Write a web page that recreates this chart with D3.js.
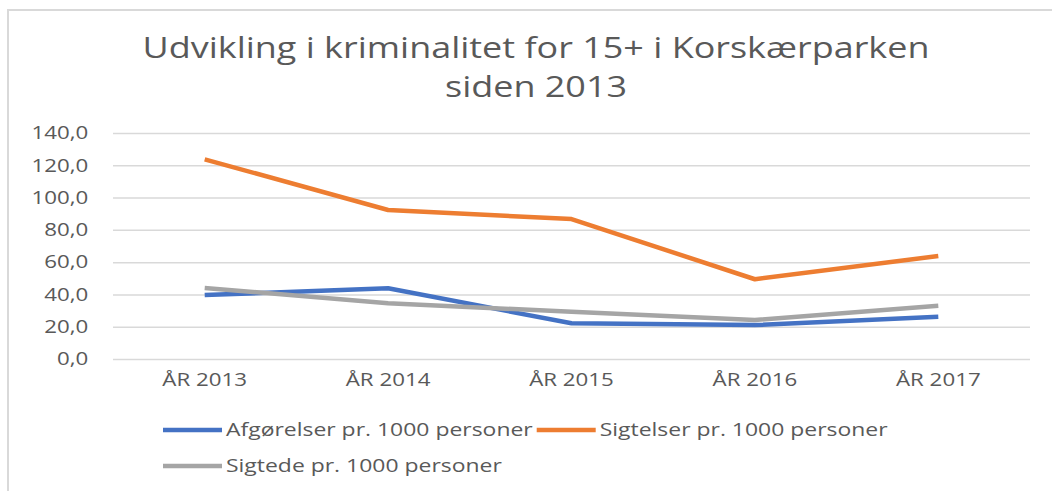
<!DOCTYPE html>
<html>
<head>
<meta charset="utf-8">
<script src="https://cdn.jsdelivr.net/npm/d3@7"></script>
<style>
body { margin: 0; background: #fff; }
text { font-family: "Open Sans", sans-serif; fill: #595959; }
</style>
</head>
<body>
<svg id="chart" width="1052" height="491"></svg>
<script>
'use strict';

var years = ['ÅR 2013', 'ÅR 2014', 'ÅR 2015', 'ÅR 2016', 'ÅR 2017'];
var afgorelser = [39.6, 43.8, 22.1, 21.0, 26.2];
var sigtelser = [123.7, 92.3, 86.7, 49.4, 63.8];
var sigtede = [44.0, 34.5, 29.3, 24.2, 33.0];
var yTicks = [0, 20, 40, 60, 80, 100, 120, 140];

var series = [
    { name: 'Afgørelser pr. 1000 personer', values: afgorelser, color: '#4472c4' },
    { name: 'Sigtelser pr. 1000 personer', values: sigtelser, color: '#ed7d31' },
    { name: 'Sigtede pr. 1000 personer', values: sigtede, color: '#a5a5a5' }
];

var PLOT = { LEFT: 113, RIGHT: 1030, TOP: 133, BOTTOM: 359 };
var STRETCH = 1.24; // the picture's text is widened horizontally

var svg = d3.select('#chart');

// chart frame (only top and left edges show in the picture)
svg.append('path')
    .attr('d', 'M8,491V10H1052')
    .attr('fill', 'none')
    .attr('stroke', '#d9d9d9')
    .attr('stroke-width', 2);

function stretchedText(cx, cy, str, size, anchor) {
    return svg.append('g')
        .attr('transform', 'translate(' + cx + ',' + cy + ') scale(' + STRETCH + ',1)')
        .append('text')
        .attr('text-anchor', anchor)
        .style('font-size', size + 'px')
        .text(str);
}

stretchedText(536, 58, 'Udvikling i kriminalitet for 15+ i Korskærparken', 29, 'middle');
stretchedText(536, 97, 'siden 2013', 29, 'middle');

var x = d3.scaleBand()
    .domain(years)
    .range([PLOT.LEFT, PLOT.RIGHT]);

var y = d3.scaleLinear()
    .domain([0, 140])
    .range([PLOT.BOTTOM, PLOT.TOP]);

var fmt = function(d) { return d3.format('.1f')(d).replace('.', ','); };

var yAxis = svg.append('g')
    .attr('transform', 'translate(' + PLOT.LEFT + ',0)')
    .call(d3.axisLeft(y)
        .tickValues(yTicks)
        .tickFormat(fmt)
        .tickSize(-(PLOT.RIGHT - PLOT.LEFT))
        .tickPadding(20));
yAxis.select('.domain').remove();
yAxis.selectAll('.tick line').attr('stroke', '#d9d9d9').attr('stroke-width', 1.5);
yAxis.selectAll('.tick text')
    .style('font-size', '18px')
    .style('font-family', '"Open Sans", sans-serif')
    .attr('fill', '#595959')
    .attr('transform', 'scale(' + STRETCH + ',1)');

var xAxis = svg.append('g')
    .attr('transform', 'translate(0,' + PLOT.BOTTOM + ')')
    .call(d3.axisBottom(x).tickSize(0).tickPadding(14));
xAxis.select('.domain').remove();
xAxis.selectAll('.tick text')
    .style('font-size', '18px')
    .style('font-family', '"Open Sans", sans-serif')
    .attr('fill', '#595959')
    .attr('transform', 'scale(' + STRETCH + ',1)');

var line = d3.line()
    .x(function(d, i) { return x(years[i]) + x.bandwidth() / 2; })
    .y(function(d) { return y(d); });

svg.selectAll('path.series')
    .data(series)
    .enter()
    .append('path')
    .attr('class', 'series')
    .attr('fill', 'none')
    .attr('stroke', function(d) { return d.color; })
    .attr('stroke-width', 4.5)
    .attr('stroke-linejoin', 'round')
    .attr('d', function(d) { return line(d.values); });

// legend: two rows, items flow left to right
var legendRows = [[series[0], series[1]], [series[2]]];
legendRows.forEach(function(row, r) {
    var lx = 163;
    var ly = 430 + r * 36;
    row.forEach(function(s) {
        svg.append('line')
            .attr('x1', lx).attr('x2', lx + 59)
            .attr('y1', ly).attr('y2', ly)
            .attr('stroke', s.color)
            .attr('stroke-width', 4.5);
        var t = stretchedText(lx + 63, ly + 6, s.name, 18.5, 'start');
        lx += 63 + t.node().getComputedTextLength() * STRETCH + 4;
    });
});
</script>
</body>
</html>
